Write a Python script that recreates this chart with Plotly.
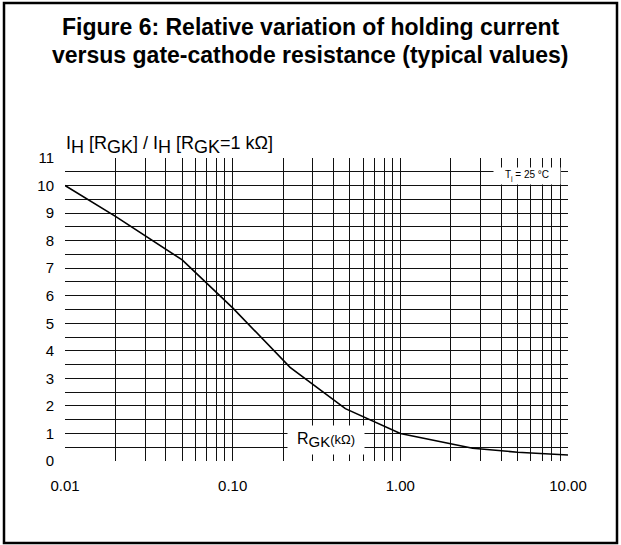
import plotly.graph_objects as go

# Data
r_gk = [0.01, 0.02, 0.05, 0.10, 0.22, 0.47, 1.0, 2.7, 5.0, 10.0]
ih_ratio = [10.0, 8.88, 7.3, 5.56, 3.4, 1.9, 1.0, 0.46, 0.32, 0.22]
x_tick_vals = [0.01, 0.1, 1, 10]
x_tick_text = ["0.01", "0.10", "1.00", "10.00"]
y_tick_vals = list(range(0, 12))

W, H = 621, 545
L, R, T, B = 65, 53, 158, 84
pw, ph = W - L - R, H - T - B

def px(xp):
    return (xp - L) / pw

def py(yp):
    return (H - B - yp) / ph

FONT = "Liberation Sans, Arial, sans-serif"

fig = go.Figure()
fig.add_trace(go.Scatter(x=r_gk, y=ih_ratio, mode="lines",
                         line=dict(color="black", width=1.6),
                         showlegend=False, hoverinfo="skip"))

grid = "#111111"
fig.update_xaxes(type="log", range=[-2, 1],
                 tickvals=x_tick_vals, ticktext=x_tick_text,
                 showgrid=True, gridcolor=grid, gridwidth=1,
                 minor=dict(dtick="D1", showgrid=True, gridcolor=grid, gridwidth=1),
                 zeroline=False, showline=False, ticks="",
                 ticklabelstandoff=14,
                 tickfont=dict(family=FONT, size=15, color="black"))
fig.update_yaxes(range=[0, 11], tickvals=y_tick_vals,
                 showgrid=True, gridcolor=grid, gridwidth=1,
                 minor=dict(dtick=0.5, showgrid=True, gridcolor=grid, gridwidth=1),
                 zeroline=False, showline=False, ticks="",
                 ticklabelstandoff=10,
                 tickfont=dict(family=FONT, size=15, color="black"))

fig.add_shape(type="rect", xref="paper", yref="paper",
              x0=px(4), x1=px(617), y0=py(543), y1=py(3),
              line=dict(color="black", width=2.5), fillcolor="rgba(0,0,0,0)")

fig.add_annotation(xref="paper", yref="paper", x=px(310), y=py(27),
                   xanchor="center", yanchor="middle", showarrow=False,
                   text="<b>Figure 6: Relative variation of holding current</b>",
                   font=dict(family=FONT, size=23, color="black"))
fig.add_annotation(xref="paper", yref="paper", x=px(310), y=py(55),
                   xanchor="center", yanchor="middle", showarrow=False,
                   text="<b>versus gate-cathode resistance (typical values)</b>",
                   font=dict(family=FONT, size=23, color="black"))

S = "<sub><span style='font-size:18px'>%s</span></sub>"
fig.add_annotation(xref="paper", yref="paper", x=px(64), y=py(159),
                   xanchor="left", yanchor="bottom", showarrow=False,
                   text="I" + S % "H" + " [R" + S % "GK" + "] / I" + S % "H"
                        + " [R" + S % "GK" + "=1 kΩ]",
                   font=dict(family=FONT, size=18, color="black"))

fig.add_annotation(xref="paper", yref="paper", x=px(527), y=py(176),
                   xanchor="center", yanchor="middle", showarrow=False,
                   text="T<sub>j</sub> = 25 °C", bgcolor="white",
                   width=62, height=12, borderpad=2,
                   font=dict(family=FONT, size=10, color="black"))

fig.add_annotation(xref="paper", yref="paper", x=px(326), y=py(440),
                   xanchor="center", yanchor="middle", showarrow=False,
                   text="R" + "<sub><span style='font-size:15px'>GK</span></sub>"
                        + "<span style='font-size:13px'>(kΩ)</span>",
                   bgcolor="white", width=72, height=24, borderpad=2,
                   font=dict(family=FONT, size=16, color="black"))

fig.update_layout(width=W, height=H, margin=dict(l=L, r=R, t=T, b=B),
                  paper_bgcolor="white", plot_bgcolor="white",
                  font=dict(family=FONT, color="black"))

fig.write_html("out.html", config={"displayModeBar": False},
               post_script="document.body.style.margin='0';")
